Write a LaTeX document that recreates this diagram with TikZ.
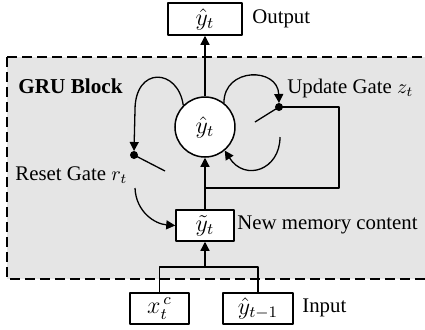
\documentclass[tikz,border=0pt]{standalone}
\usepackage{fontspec}
\setmainfont{Liberation Serif}
\usetikzlibrary{arrows.meta}
\begin{document}
\begin{tikzpicture}[x=0.5pt,y=-0.5pt,font=\fontsize{10.4}{12}\selectfont,line join=round,>={Triangle[length=4.5pt,width=4.5pt]},
	box/.style={draw,fill=white,line width=0.75pt,inner sep=0pt,minimum height=15.5pt,font=\fontsize{11.5}{13}\selectfont},
	wire/.style={line width=0.65pt},
	lbl/.style={inner sep=0pt,anchor=west}]
	\useasboundingbox (0,0) rectangle (425,329);
	\draw[fill=gray!20,line width=0.75pt,dash pattern=on 5pt off 2.5pt] (7,57) rectangle (435,279);
	\node[lbl,font=\fontsize{10.6}{12}\selectfont\bfseries] (gru) at (18,86) {GRU Block};
	\node[box,minimum width=37pt,minimum height=16pt] (out) at (205,19) {$\hat{y}_t$};
	\node[lbl] (outlbl) at (252,19) {Output};
	\node[draw,circle,fill=white,line width=0.75pt,minimum size=30pt,inner sep=0pt,font=\fontsize{11.5}{13}\selectfont] (cell) at (205,127) {$\hat{y}_t$};
	\node[box,minimum width=29pt] (mem) at (205,225.5) {$\tilde{y}_t$};
	\node[lbl] (memlbl) at (237,225) {New memory content};
	\node[box,minimum width=29.5pt] (xin) at (159.5,308.5) {$x_{t}^{\,c}$};
	\node[box,minimum width=35pt] (yin) at (258,308.5) {$\hat{y}_{t-1}$};
	\node[lbl] (inlbl) at (302,308) {Input};
	\node[lbl] (upd) at (287,88) {Update Gate $z_t$};
	\node[lbl] (rst) at (15,175) {Reset Gate $r_t$};
	\coordinate (rdot) at (134,155);
	\coordinate (udot) at (279,107);
	\coordinate (j) at (205,188);
	\coordinate (jin) at (205,267);
	\draw[wire,->] (cell) -- (out);
	\draw[wire,->] (mem) -- (cell);
	\draw[wire] (xin.north) |- (jin) -| (yin.north);
	\draw[wire,->] (jin) -- (mem);
	\draw[wire] (j) -- (339,188) -- (339,107) -- (udot);
	% gates
	\draw[wire,->] (cell.135) .. controls (178,68) and (135,66) .. (135,110) -- (134,151);
	\draw[wire,->] (cell.52) .. controls (224,67) and (278,67) .. (279,103);
	\fill (rdot) circle (2pt);\fill (udot) circle (2pt);
	\draw[wire] (rdot) -- (165,171);
	\draw[wire] (udot) -- (255,122);
	\draw[wire,->] (280,137) .. controls (280,170) and (245,182) .. (cell.-50);
	\draw[wire,->] (135,188) .. controls (136,212) and (155,224) .. (mem.west);
\end{tikzpicture}
\end{document}
